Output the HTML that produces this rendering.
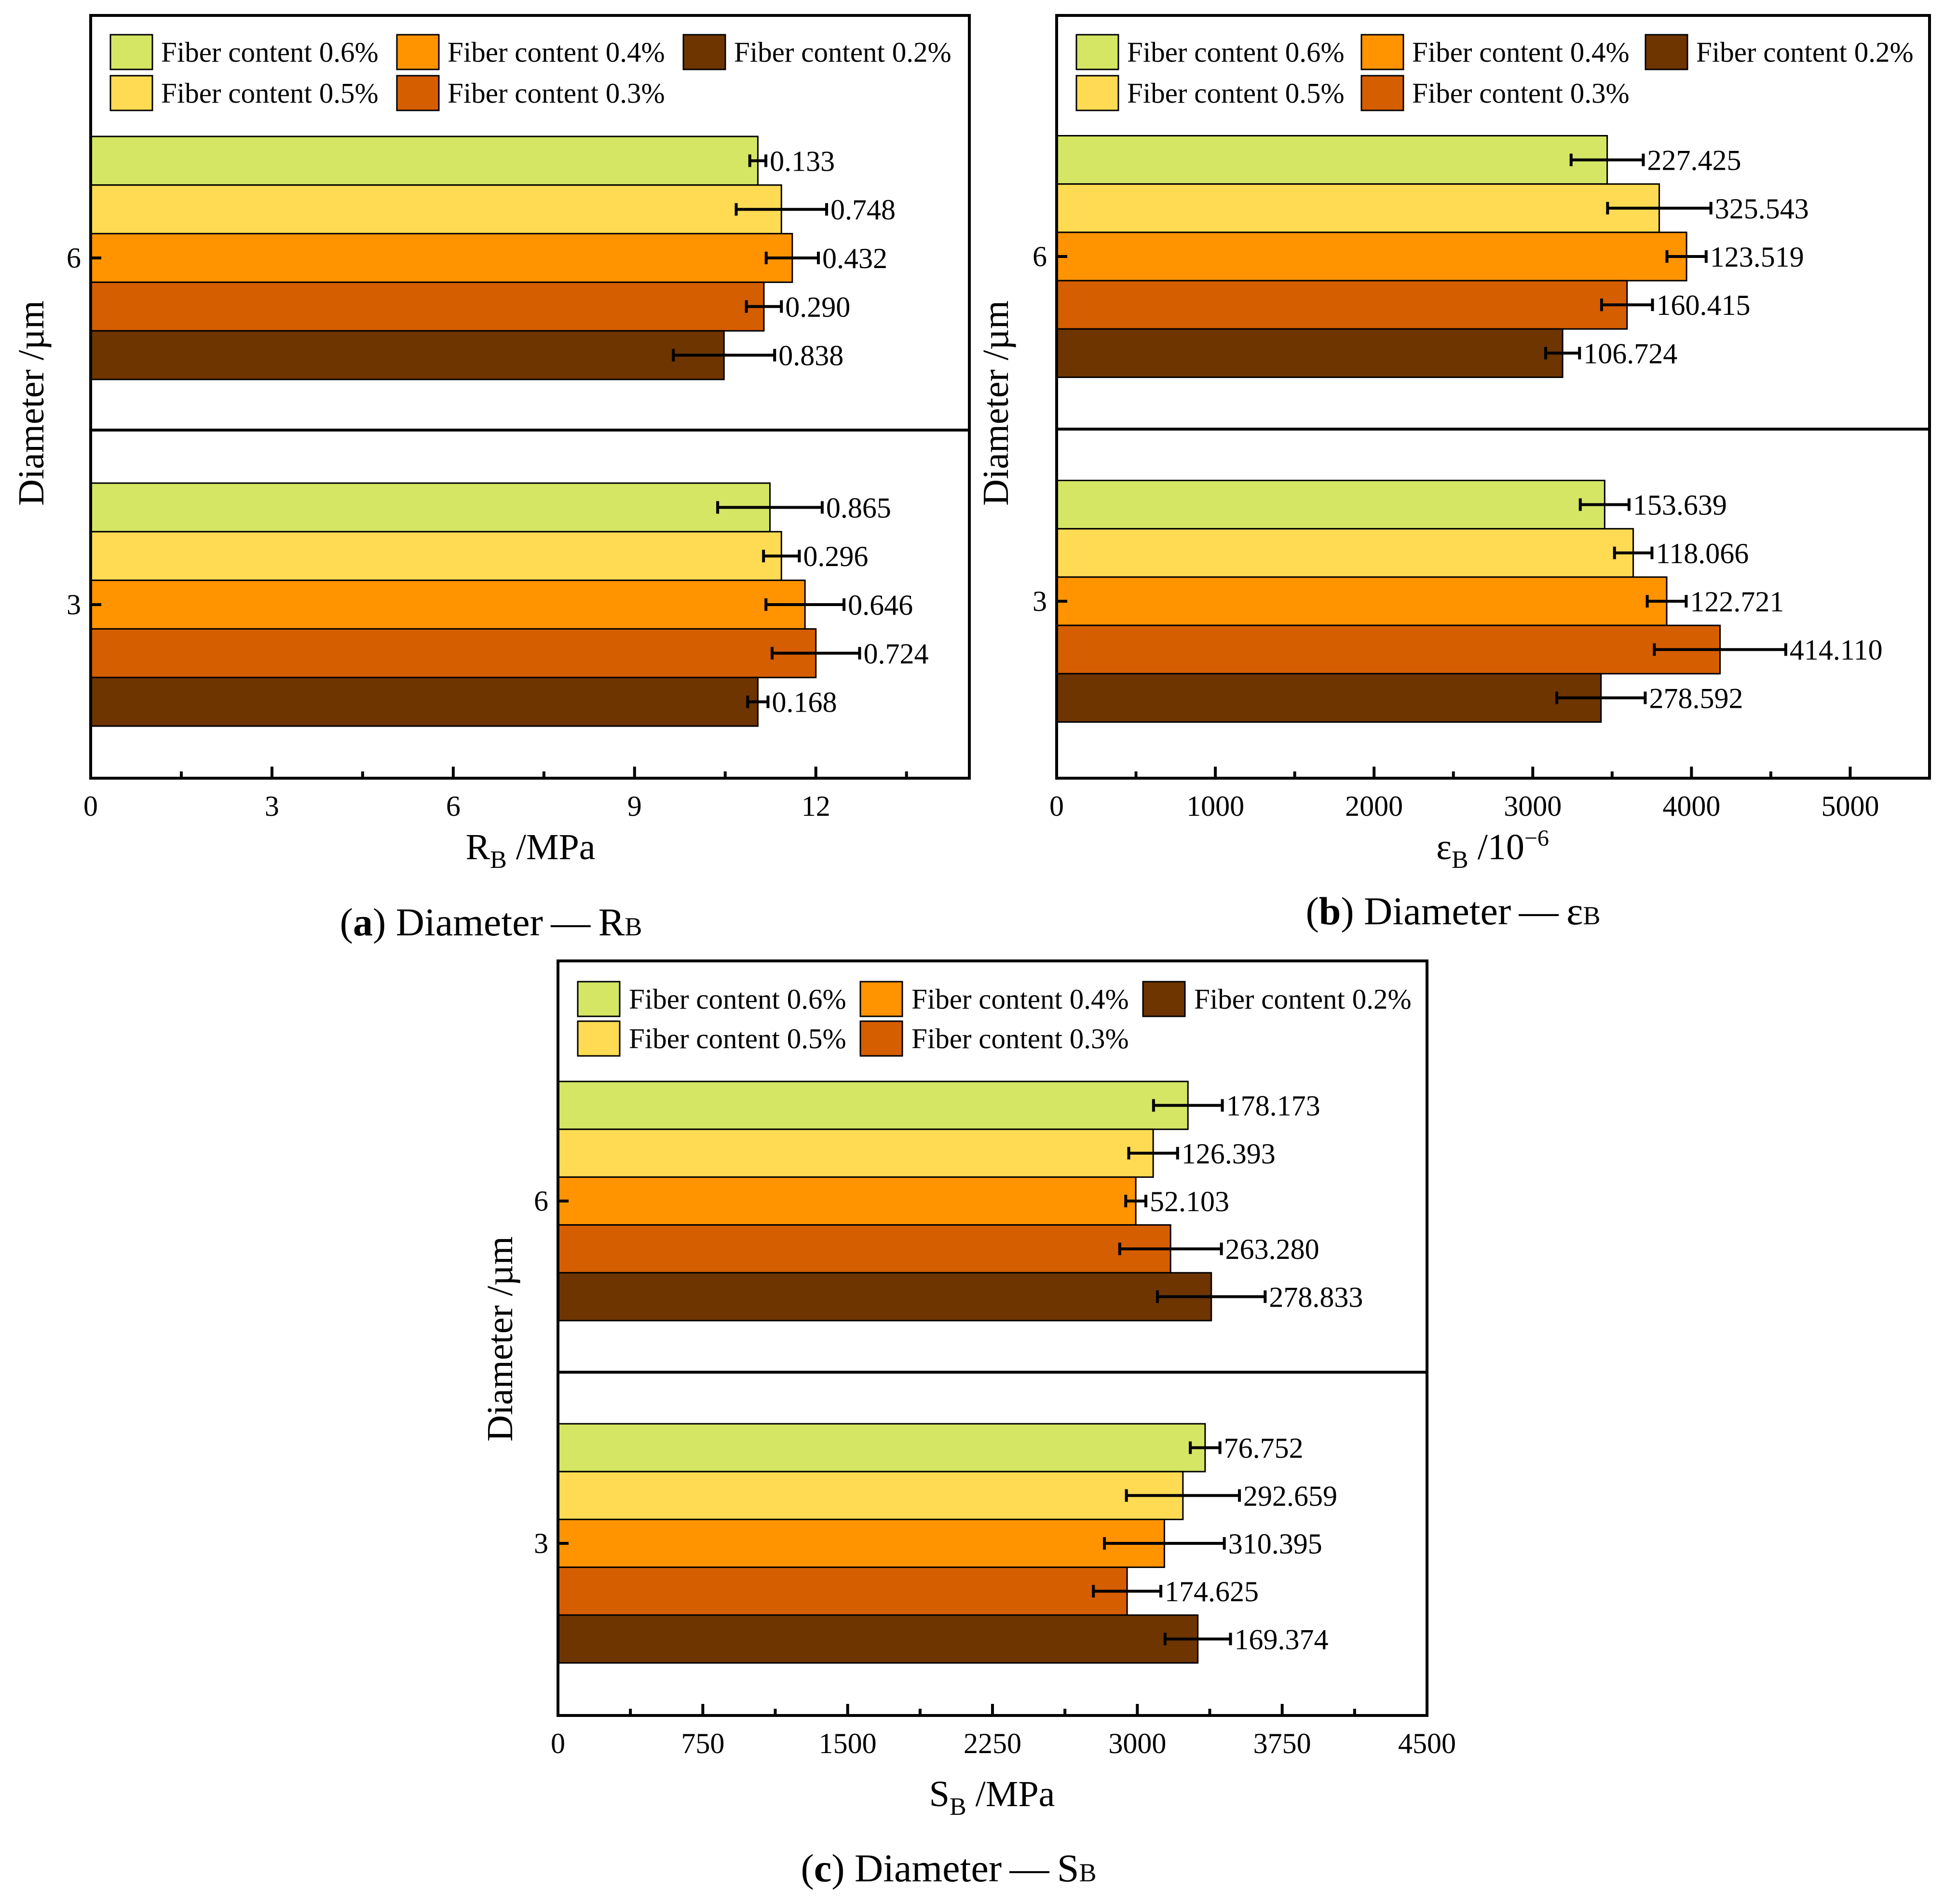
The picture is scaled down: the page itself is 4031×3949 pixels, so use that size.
<!DOCTYPE html>
<html><head><meta charset="utf-8"><style>
html,body{margin:0;padding:0;background:#fff;}
svg, svg text{font-family:"Liberation Serif","Times New Roman","DejaVu Serif",serif;}
</style></head><body>
<svg id="fig" width="4031" height="3944" viewBox="0 0 4031 3944" xmlns="http://www.w3.org/2000/svg" font-family="Liberation Serif, Times New Roman, serif">
<style>text{font-family:"Liberation Serif","Times New Roman","DejaVu Serif",serif;}</style>
</svg>
<script>
// ---- data ----
const seriesNames = ["Fiber content 0.6%","Fiber content 0.5%","Fiber content 0.4%","Fiber content 0.3%","Fiber content 0.2%"];
const categories = ["6","3"];
// panel a: R_B (MPa)
const aMean6 = [11.04, 11.43, 11.61, 11.14, 10.48];
const aMean3 = [11.24, 11.43, 11.82, 12.00, 11.04];
const aErr6 = [0.133, 0.748, 0.432, 0.290, 0.838];
const aErr3 = [0.865, 0.296, 0.646, 0.724, 0.168];
const aTicks = [0, 3, 6, 9, 12];
// panel b: eps_B (1e-6)
const bMean6 = [3469, 3797, 3969, 3594, 3188];
const bMean3 = [3453, 3633, 3844, 4180, 3430];
const bErr6 = [227.425, 325.543, 123.519, 160.415, 106.724];
const bErr3 = [153.639, 118.066, 122.721, 414.110, 278.592];
const bTicks = [0, 1000, 2000, 3000, 4000, 5000];
// panel c: S_B (MPa)
const cMean6 = [3262, 3082, 2992, 3172, 3383];
const cMean3 = [3351, 3236, 3140, 2947, 3313];
const cErr6 = [178.173, 126.393, 52.103, 263.280, 278.833];
const cErr3 = [76.752, 292.659, 310.395, 174.625, 169.374];
const cTicks = [0, 750, 1500, 2250, 3000, 3750, 4500];

const colors = ["#d4e664","#fedb52","#ff9300","#d55e00","#6e3500"];
const NS = "http://www.w3.org/2000/svg";
const FONT = "Liberation Serif, Times New Roman, serif";
const svg = document.getElementById('fig');
function mk(tag, attrs, parent){const e=document.createElementNS(NS,tag);for(const k in attrs)e.setAttribute(k,attrs[k]);if(tag==='text')e.setAttribute('font-family',FONT);(parent||svg).appendChild(e);return e;}

function panel(p){
  const g = mk('g',{'font-family':FONT});
  
  
  const sx = v => p.x0 + v/p.xmax*(p.x1-p.x0);
  const bh = p.bh;
  [[p.mean6,p.err6,p.cy[0]],[p.mean3,p.err3,p.cy[1]]].forEach((grp,gi)=>{
    const [means,errs,cy] = grp;
    means.forEach((m,i)=>{
      const top = cy - 2.5*bh + i*bh;
      const r = mk('rect',{x:sx(0),y:top,width:sx(m)-sx(0),height:bh,fill:colors[i],stroke:'#000','stroke-width':3},g);
      
      
      const yc = top+bh/2, e=errs[i];
      const lo=sx(m-e), hi=sx(m+e);
      const eb = mk('path',{d:`M${lo},${yc}H${hi}M${lo},${yc-13}V${yc+13}M${hi},${yc-13}V${yc+13}`,stroke:'#000','stroke-width':6,fill:'none'},g);
      
      
      const t = mk('text',{x:hi+8,y:yc+21,'font-size':60},g);
      t.textContent = e.toFixed(3);
      
      
    });
  });
  const fr = mk('rect',{x:p.x0,y:p.y0,width:p.x1-p.x0,height:p.y1-p.y0,fill:'none',stroke:'#000','stroke-width':6},g);
  
  
  mk('line',{x1:p.x0,x2:p.x1,y1:p.div,y2:p.div,stroke:'#000','stroke-width':6},g);
  for(let v=0; v<=p.xmax+1e-9; v+=p.minor){
    const major = p.ticks.some(t=>Math.abs(t-v)<1e-6);
    mk('line',{x1:sx(v),x2:sx(v),y1:p.y1,y2:p.y1-(major?24:14),stroke:'#000','stroke-width':6},g);
  }
  p.ticks.forEach(t=>{
    const tx = mk('text',{x:sx(t),y:p.y1+78,'font-size':60,'text-anchor':'middle'},g);
    tx.textContent = String(t);
    
    
  });
  categories.forEach((c,i)=>{
    mk('line',{x1:p.x0,x2:p.x0+22,y1:p.cy[i],y2:p.cy[i],stroke:'#000','stroke-width':6},g);
    const ty = mk('text',{x:p.x0-20,y:p.cy[i]+20,'font-size':60,'text-anchor':'end'},g);
    ty.textContent = c;
    
    
  });
  const yt = mk('text',{x:0,y:0,'font-size':76,'text-anchor':'middle',transform:`translate(${p.ytx},${p.yty}) rotate(-90)`},g);
  yt.textContent = 'Diameter /\u00b5m';
  
  
  const xt = mk('text',{x:p.xtx,y:p.xty,'font-size':76,'text-anchor':'middle'},g);
  xt.innerHTML = p.xtitle;
  
  
  const cp = mk('text',{x:p.capx,y:p.capy,'font-size':82,'text-anchor':'middle'},g);
  cp.innerHTML = p.caption;
  
  
  const order=[[0,0],[0,1],[1,0],[1,1],[2,0]];
  seriesNames.forEach((n,i)=>{
    const [col,row]=order[i];
    const lg = mk('g',{},g);
    
    
    const y = p.legY[row];
    mk('rect',{x:p.legSw[col],y:y,width:87,height:72,fill:colors[i],stroke:'#000','stroke-width':3},lg);
    const t = mk('text',{x:p.legTx[col],y:y+56,'font-size':59},lg);
    t.textContent = n;
  });
}

panel({id:'panel-a',x0:188,x1:2010,y0:32,y1:1614,xmax:14.54,minor:1.5,ticks:aTicks,
  mean6:aMean6,mean3:aMean3,err6:aErr6,err3:aErr3,cy:[535,1254],bh:100.8,div:892,
  legSw:[229,823,1417],legTx:[334,928,1522],legY:[72,157],
  ytx:90,yty:836,xtx:1100,xty:1782,xtitle:'R<tspan font-size="52" dy="18">B</tspan><tspan dy="-18"> /MPa</tspan>',
  capx:1018,capy:1940,caption:'(<tspan font-weight="bold">a</tspan>) Diameter\u2009\u2014\u2009R<tspan font-size="54">B</tspan>'});
panel({id:'panel-b',x0:2191,x1:4001,y0:32,y1:1614,xmax:5500,minor:500,ticks:bTicks,
  mean6:bMean6,mean3:bMean3,err6:bErr6,err3:bErr3,cy:[532,1247],bh:100.2,div:890,
  legSw:[2232,2823,3412],legTx:[2337,2928,3517],legY:[72,157],
  ytx:2090,yty:836,xtx:3095,xty:1782,xtitle:'\u03b5<tspan font-size="52" dy="18">B</tspan><tspan dy="-18"> /10</tspan><tspan font-size="48" dy="-28">\u22126</tspan>',
  capx:3013,capy:1917,caption:'(<tspan font-weight="bold">b</tspan>) Diameter\u2009\u2014\u2009\u03b5<tspan font-size="54">B</tspan>'});
panel({id:'panel-c',x0:1157,x1:2959,y0:1993,y1:3558,xmax:4500,minor:375,ticks:cTicks,
  mean6:cMean6,mean3:cMean3,err6:cErr6,err3:cErr3,cy:[2491,3201],bh:99.2,div:2846,
  legSw:[1198,1784,2370],legTx:[1304,1890,2476],legY:[2036,2118],
  ytx:1062,yty:2777,xtx:2057,xty:3746,xtitle:'S<tspan font-size="52" dy="18">B</tspan><tspan dy="-18"> /MPa</tspan>',
  capx:1967,capy:3902,caption:'(<tspan font-weight="bold">c</tspan>) Diameter\u2009\u2014\u2009S<tspan font-size="54">B</tspan>'});
</script>
</body></html>
